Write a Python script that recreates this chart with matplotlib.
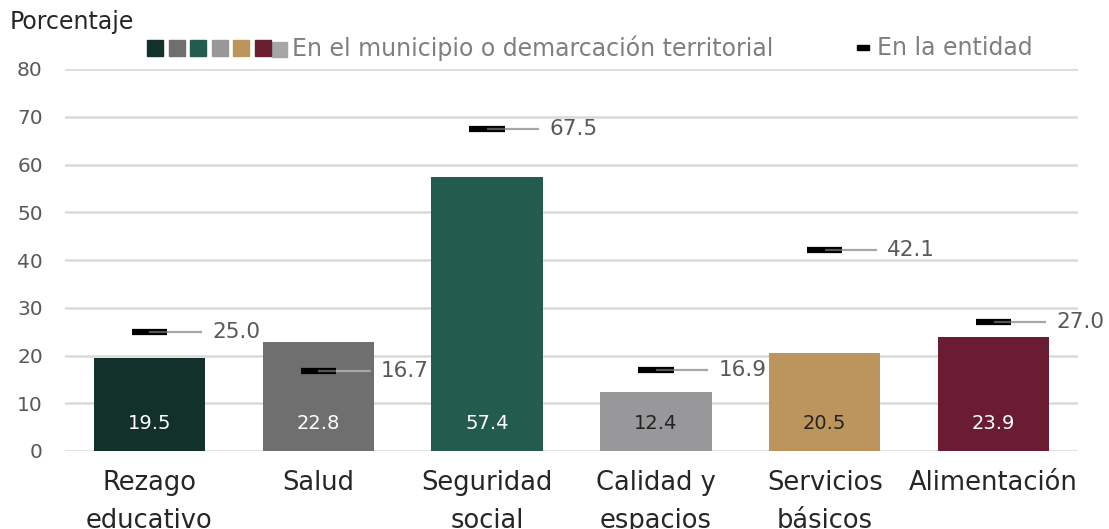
import matplotlib.pyplot as plt
import numpy as np
from matplotlib.patches import Rectangle

plt.rcParams['font.family'] = ['DejaVu Sans']
plt.rcParams['font.weight'] = 'normal'

categorias = ['Rezago\neducativo', 'Salud', 'Seguridad\nsocial', 'Calidad y\nespacios',
              'Servicios\nbásicos', 'Alimentación']
municipio = [19.5, 22.8, 57.4, 12.4, 20.5, 23.9]
entidad = [25.0, 16.7, 67.5, 16.9, 42.1, 27.0]
colores = ['#13312B', '#6F6F6F', '#235B4E', '#98989A', '#BC955C', '#691C32']
color_texto = ['white', 'white', 'white', '#222222', '#222222', 'white']

fig = plt.figure(figsize=(11.09, 5.29), dpi=100)
ax = fig.add_axes([65/1109, 78/529, (1078-65)/1109, (451-69)/529])

x = np.arange(len(categorias))
ax.bar(x, municipio, width=0.66, color=colores, zorder=2)

for i in range(len(x)):
    ax.text(x[i], 5.8, '%.1f' % municipio[i], ha='center', va='center',
            fontsize=14, color=color_texto[i], zorder=4)
    # marcador de la entidad
    ax.plot([x[i]-0.105, x[i]+0.105], [entidad[i], entidad[i]], color='black',
            lw=4.5, solid_capstyle='butt', zorder=3)
    ax.plot([x[i], x[i]+0.105], [entidad[i], entidad[i]], color='#555555',
            lw=1.6, solid_capstyle='butt', zorder=4)
    ax.plot([x[i]+0.105, x[i]+0.31], [entidad[i], entidad[i]], color='#A6A6A6',
            lw=1.6, solid_capstyle='butt', zorder=4)
    ax.text(x[i]+0.37, entidad[i], '%.1f' % entidad[i], ha='left', va='center',
            fontsize=15.5, color='#595959', zorder=4)

ax.set_xlim(-0.5, 5.5)
ax.set_ylim(0, 80)
ax.set_yticks(np.arange(0, 81, 10))
ax.yaxis.grid(True, color='#D9D9D9', lw=1.8, zorder=0)
ax.set_axisbelow(True)
for s in ax.spines.values():
    s.set_visible(False)
ax.tick_params(axis='both', length=0)
ax.tick_params(axis='y', labelsize=14.5, labelcolor='#595959', pad=16)
ax.tick_params(axis='x', labelsize=18.5, labelcolor='#262626', pad=14)
ax.set_xticks(x)
ax.set_xticklabels(categorias, linespacing=1.6)

fig.text(10/1109, 1-22/529, 'Porcentaje', fontsize=17, color='#262626', va='center')

# leyenda
fig.patches.append(Rectangle((272/1109, 1-57/529), 15/1109, 15/529,
                             transform=fig.transFigure, color='#A6A6A6'))
for i, c in enumerate(colores):
    fig.patches.append(Rectangle(((147 + i*21.5)/1109, 1-56/529), 16/1109, 16/529,
                                 transform=fig.transFigure, color=c))
fig.text(292/1109, 1-48/529, 'En el municipio o demarcación territorial', fontsize=17,
         color='#7F7F7F', va='center')
fig.patches.append(Rectangle((857/1109, 1-50/529), 12/1109, 5/529,
                             transform=fig.transFigure, color='black'))
fig.text(877/1109, 1-48/529, 'En la entidad', fontsize=17, color='#7F7F7F', va='center')

fig.savefig('out.png', dpi=100)
